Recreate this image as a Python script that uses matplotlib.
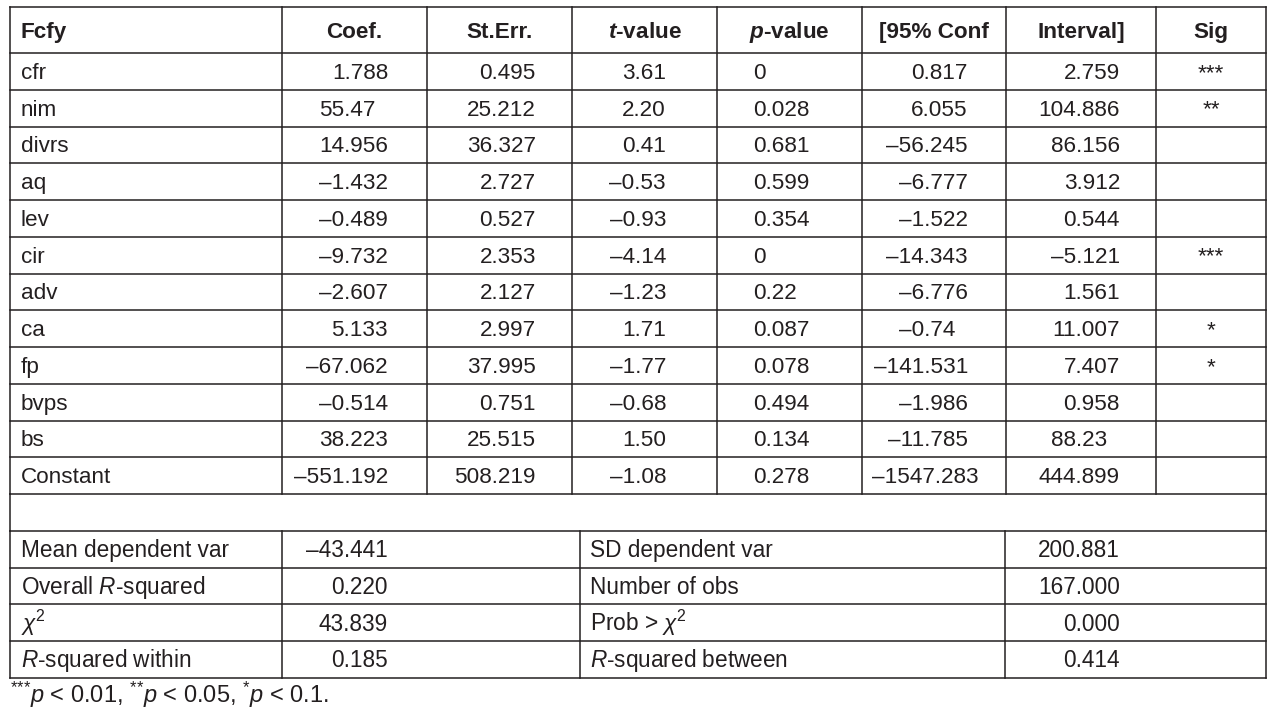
import matplotlib
matplotlib.use("Agg")
import matplotlib.pyplot as plt

# Table contents
headers = ["Fcfy", "Coef.", "St.Err.", "$\\mathbfit{t}$-value", "$\\mathbfit{p}$-value",
           "[95% Conf", "Interval]", "Sig"]
variables = ["cfr", "nim", "divrs", "aq", "lev", "cir", "adv", "ca", "fp", "bvps", "bs", "Constant"]
coef = ["1.788", "55.47", "14.956", "–1.432", "–0.489", "–9.732", "–2.607", "5.133",
        "–67.062", "–0.514", "38.223", "–551.192"]
st_err = ["0.495", "25.212", "36.327", "2.727", "0.527", "2.353", "2.127", "2.997",
          "37.995", "0.751", "25.515", "508.219"]
t_value = ["3.61", "2.20", "0.41", "–0.53", "–0.93", "–4.14", "–1.23", "1.71",
           "–1.77", "–0.68", "1.50", "–1.08"]
p_value = ["0", "0.028", "0.681", "0.599", "0.354", "0", "0.22", "0.087",
           "0.078", "0.494", "0.134", "0.278"]
conf_lo = ["0.817", "6.055", "–56.245", "–6.777", "–1.522", "–14.343", "–6.776", "–0.74",
           "–141.531", "–1.986", "–11.785", "–1547.283"]
conf_hi = ["2.759", "104.886", "86.156", "3.912", "0.544", "–5.121", "1.561", "11.007",
           "7.407", "0.958", "88.23", "444.899"]
sig = ["***", "**", "", "", "", "***", "", "*", "*", "", "", ""]

stat_labels_left = ["Mean dependent var", "Overall $R$-squared", "$\\chi^2$", "$R$-squared within"]
stat_values_left = ["–43.441", "0.220", "43.839", "0.185"]
stat_labels_right = ["SD dependent var", "Number of obs", "Prob > $\\chi^2$", "$R$-squared between"]
stat_values_right = ["200.881", "167.000", "0.000", "0.414"]
footnote = ("$^{\\text{***}}p$ < 0.01, $^{\\text{**}}p$ < 0.05, "
            "$^{\\text{*}}p$ < 0.1.")

# Layout (pixel coordinates)
W, H = 1277, 719
col_x = [10, 282, 427, 572, 717, 862, 1006, 1156, 1266]
stat_x = [10, 282, 580, 1005, 1266]
top, head_bot, row_h = 7, 53, 36.75
ink = "#231f20"
line_kw = dict(color=ink, lw=1.1, solid_capstyle="projecting")

plt.rcParams["mathtext.fontset"] = "custom"
plt.rcParams["mathtext.rm"] = "Liberation Sans"
plt.rcParams["mathtext.it"] = "Liberation Sans:italic"
plt.rcParams["mathtext.bfit"] = "Liberation Sans:italic:bold"
plt.rcParams["mathtext.bf"] = "Liberation Sans:bold"

body = ["Liberation Sans", "DejaVu Sans"]
fs = 16.2
fs_n = 16.3
digit_w = 0.556 * fs / 0.72

fig = plt.figure(figsize=(W / 100, H / 100), dpi=100)
ax = fig.add_axes([0, 0, 1, 1])
ax.set_xlim(0, W)
ax.set_ylim(H, 0)
ax.axis("off")
renderer = fig.canvas.get_renderer()

n_rows = len(variables)
row_lines = [head_bot + i * row_h for i in range(n_rows + 1)]
blank_bot = row_lines[-1] + row_h
stat_lines = [blank_bot + i * row_h for i in range(len(stat_labels_left) + 1)]

# horizontal rules
for y in [top] + row_lines + stat_lines:
    ax.plot([col_x[0], col_x[-1]], [y, y], **line_kw)
# vertical rules, main block
for x in col_x:
    ax.plot([x, x], [top, row_lines[-1]], **line_kw)
# outer border of blank row
for x in (col_x[0], col_x[-1]):
    ax.plot([x, x], [row_lines[-1], blank_bot], **line_kw)
# vertical rules, statistics block
for x in stat_x:
    ax.plot([x, x], [blank_bot, stat_lines[-1]], **line_kw)

# header
hy = (top + head_bot) / 2 + 8
ax.text(21, hy, headers[0], fontsize=fs, fontweight="bold", family=body, color=ink)
for i, h in enumerate(headers[1:], start=1):
    ax.text((col_x[i] + col_x[i + 1]) / 2, hy, h, fontsize=fs, fontweight="bold",
            family=body, color=ink, ha="center")


def dec_text(x_end, y, s, col_left):
    # right-align so that decimal points line up with three-decimal values
    ndec = len(s.split(".")[1]) if "." in s else 3
    t = ax.text(x_end - (3 - ndec) * digit_w, y, s, fontsize=fs, family=body,
                color=ink, ha="right")
    # keep long values clear of the cell's left rule
    left = t.get_window_extent(renderer).x0
    if left < col_left + 10:
        t.set_x(t.get_position()[0] + col_left + 10 - left)


for r in range(n_rows):
    y = row_lines[r] + row_h / 2 + 7.5
    ax.text(21, y, variables[r], fontsize=fs, family=body, color=ink)
    dec_text(388, y, coef[r], col_x[1])
    dec_text(536, y, st_err[r], col_x[2])
    ax.text(666, y, t_value[r], fontsize=fs, family=body, color=ink, ha="right")
    ax.text(753, y, p_value[r], fontsize=fs, family=body, color=ink, ha="left")
    dec_text(968, y, conf_lo[r], col_x[5])
    dec_text(1120, y, conf_hi[r], col_x[6])
    ax.text(1211, y, sig[r], fontsize=fs, family=body, color=ink, ha="center")

for r in range(len(stat_labels_left)):
    y = stat_lines[r] + row_h / 2 + 8
    ax.text(21, y, stat_labels_left[r], fontsize=fs_n, family=body, color=ink)
    ax.text(388, y, stat_values_left[r], fontsize=fs_n, family=body, color=ink, ha="right")
    ax.text(590, y, stat_labels_right[r], fontsize=fs_n, family=body, color=ink)
    ax.text(1120, y, stat_values_right[r], fontsize=fs_n, family=body, color=ink, ha="right")

ax.text(10, 703, footnote, fontsize=17, family=body, color=ink)

fig.savefig("out.png", dpi=100)
